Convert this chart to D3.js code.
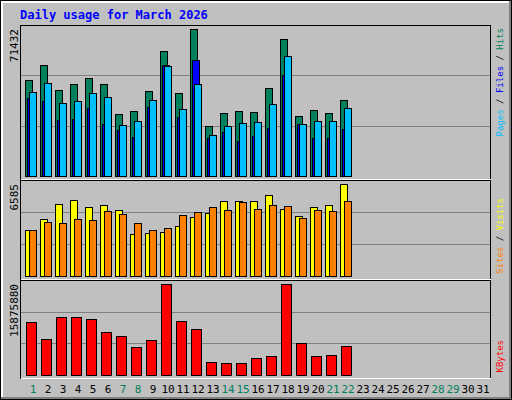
<!DOCTYPE html>
<html>
<head>
<meta charset="utf-8">
<script src="https://cdn.jsdelivr.net/npm/d3@7"></script>
<style>
  body { margin: 0; background: #fff; }
  text { font-family: "DejaVu Sans Mono", monospace; }
</style>
</head>
<body>
<div class="container"></div>
<script>
const days = d3.range(1, 32);
const weekendDays = [1, 7, 8, 14, 15, 21, 22, 28, 29];

const hits = [46650, 53940, 41790, 44700, 47620, 44700, 30130, 31580, 41300, 60740, 40330, 71432, 24300, 30610, 31580, 31100, 42760, 66570, 29150, 32070, 30610, 36930];
const files = [37900, 36440, 27210, 27700, 33040, 25270, 22350, 18950, 33530, 53930, 28670, 56370, 18460, 21380, 17010, 19440, 23320, 49080, 25270, 18460, 18460, 22840];
const pages = [40820, 45190, 35470, 36440, 40330, 38390, 24780, 26720, 36930, 53450, 32560, 44700, 19920, 24300, 25750, 26240, 34990, 58310, 25270, 26720, 26720, 33040];
const visits = [3293, 4080, 5154, 5440, 4939, 5082, 4724, 3006, 3078, 3150, 3579, 4223, 4510, 5369, 5369, 5369, 5798, 4796, 4295, 4939, 5082, 6585];
const sites = [3293, 3865, 3794, 4080, 4008, 4653, 4438, 3794, 3293, 3436, 4366, 4581, 4939, 4724, 5297, 4796, 5082, 5011, 4152, 4724, 4653, 5369];
const kbytes = [9246000, 6280000, 10119000, 10119000, 9770000, 7502000, 6804000, 4885000, 6106000, 15875880, 9421000, 8025000, 2268000, 2094000, 2094000, 2966000, 3315000, 15875880, 5583000, 3315000, 3489000, 5059000];

const width = 512;
const height = 400;

const svg = d3.select('.container').append('svg')
  .attr('width', width).attr('height', height);

// outer frame
svg.append('rect').attr('x', 0).attr('y', 0).attr('width', width).attr('height', height).attr('fill', '#000');
svg.append('rect').attr('x', 1).attr('y', 1).attr('width', width - 2).attr('height', height - 2).attr('fill', '#808080');
svg.append('rect').attr('x', 1).attr('y', 1).attr('width', width - 4).attr('height', height - 4).attr('fill', '#fff');
svg.append('rect').attr('x', 3).attr('y', 3).attr('width', width - 6).attr('height', height - 6).attr('fill', '#c0c0c0');

svg.append('text')
  .attr('x', 20).attr('y', 19)
  .attr('fill', '#0000ff').attr('font-size', 12).attr('font-weight', 'bold')
  .text('Daily usage for March 2026');

const x = d3.scaleBand().domain(days).range([25, 490]).paddingInner(0);

const panels = [
  { top: 25, bottom: 179, y0: 176, y1: 29, max: 71432, label: '71432' },
  { top: 180, bottom: 279, y0: 276, y1: 184, max: 6585, label: '6585' },
  { top: 280, bottom: 378, y0: 375, y1: 284, max: 15875880, label: '15875880' }
];

panels.forEach(p => {
  p.y = d3.scaleLinear().domain([0, p.max]).range([p.y0, p.y1]);
  svg.append('rect').attr('x', 20.5).attr('y', p.top + 0.5)
    .attr('width', 470).attr('height', p.bottom - p.top)
    .attr('fill', '#c0c0c0').attr('stroke', '#000');
  svg.append('line').attr('x1', 21).attr('x2', 491).attr('y1', p.bottom + 0.5).attr('y2', p.bottom + 0.5)
    .attr('stroke', '#fff');
  [1 / 3, 2 / 3].forEach(f => {
    const gy = Math.round(p.y0 - (p.y0 - p.top) * f) + 0.5;
    svg.append('line').attr('x1', 21).attr('x2', 490).attr('y1', gy).attr('y2', gy)
      .attr('stroke', '#808080');
  });
  svg.append('text')
    .attr('transform', `translate(18, ${p.y1}) rotate(-90)`)
    .attr('text-anchor', 'end').attr('font-size', 11).attr('fill', '#000')
    .text(p.label);
});

function bars(data, panel, offset, w, color) {
  const s = panel.y;
  svg.append('g').selectAll('rect').data(data).enter().append('rect')
    .attr('x', (d, i) => x(days[i]) + offset + 0.5)
    .attr('y', d => Math.round(s(d)) + 0.5)
    .attr('width', w)
    .attr('height', d => Math.round(s(0)) - Math.round(s(d)))
    .attr('fill', color).attr('stroke', '#000');
}

bars(hits, panels[0], 0, 7, '#00805c');
bars(files, panels[0], 2, 7, '#0000ff');
bars(pages, panels[0], 4, 7, '#00c0ff');
bars(visits, panels[1], 0, 7, '#ffff00');
bars(sites, panels[1], 4, 7, '#ff8000');
bars(kbytes, panels[2], 1, 10, '#ff0000');

// day labels
svg.append('g').selectAll('text').data(days).enter().append('text')
  .attr('x', d => x(d) + 8)
  .attr('y', 393)
  .attr('text-anchor', 'middle').attr('font-size', 11)
  .attr('fill', d => weekendDays.includes(d) ? '#00805c' : '#000')
  .text(d => d);

// right legends
function legend(parts, yEnd) {
  const t = svg.append('text')
    .attr('transform', `translate(503, ${yEnd}) rotate(-90)`)
    .attr('text-anchor', 'end').attr('font-size', 9);
  parts.forEach(([s, c]) => t.append('tspan').attr('fill', c).text(s));
}
legend([['Pages', '#00c0ff'], [' / ', '#000'], ['Files', '#0000ff'], [' / ', '#000'], ['Hits', '#00805c']], 28);
legend([['Sites', '#ff8000'], [' / ', '#000'], ['Visits', '#ffff00']], 198);
legend([['KBytes', '#ff0000']], 340);
</script>
</body>
</html>
